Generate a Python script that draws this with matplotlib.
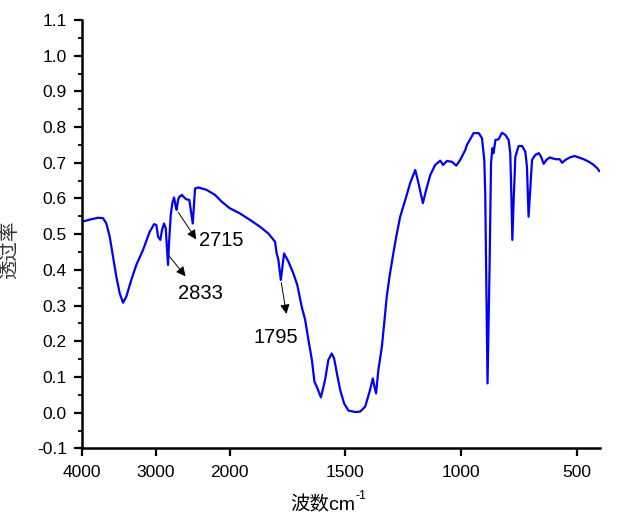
import numpy as np
from matplotlib import pyplot as plt
from matplotlib.ticker import MultipleLocator

plt.rcParams['font.family'] = ['Liberation Sans', 'Noto Sans CJK SC', 'DejaVu Sans']

# wavenumber (cm-1) and transmittance
WAVENUMBER = [
    4000, 3877, 3786, 3718, 3673, 3627, 3582, 3537, 3491, 3446, 3402, 3334, 3266,
    3175, 3084, 3026, 2994, 2971, 2940, 2917, 2890, 2867, 2836, 2822, 2799, 2777,
    2754, 2731, 2718, 2700, 2682, 2646, 2636, 2591, 2547, 2500, 2469, 2425, 2311,
    2198, 2107, 2000, 1955, 1912, 1869, 1833, 1804, 1797, 1790, 1779, 1771, 1765,
    1746, 1725, 1708, 1689, 1674, 1660, 1645, 1634, 1624, 1606, 1588, 1574, 1559,
    1549, 1537, 1523, 1506, 1487, 1458, 1437, 1415, 1396, 1382, 1375, 1368, 1358,
    1343, 1333, 1322, 1310, 1296, 1281, 1264, 1242, 1221, 1199, 1185, 1166, 1152,
    1134, 1113, 1091, 1079, 1062, 1041, 1022, 1005, 983, 976, 947, 925, 911, 901,
    897, 892, 887, 878, 872, 866, 861, 853, 839, 825, 810, 796, 789, 784, 780, 774,
    767, 753, 738, 724, 717, 710, 702, 695, 681, 666, 656, 645, 633, 619, 594, 576,
    565, 551, 532, 511, 494, 472, 450, 429, 414, 405,
]
TRANSMITTANCE = [
    0.535, 0.542, 0.546, 0.545, 0.530, 0.493, 0.437, 0.381, 0.334, 0.308, 0.325,
    0.372, 0.414, 0.456, 0.507, 0.528, 0.526, 0.493, 0.484, 0.512, 0.530, 0.517,
    0.414, 0.475, 0.554, 0.587, 0.603, 0.577, 0.568, 0.596, 0.605, 0.610, 0.607,
    0.598, 0.596, 0.530, 0.628, 0.631, 0.624, 0.610, 0.591, 0.573, 0.558, 0.540,
    0.521, 0.502, 0.479, 0.446, 0.430, 0.372, 0.414, 0.446, 0.423, 0.390, 0.358,
    0.297, 0.260, 0.204, 0.148, 0.087, 0.073, 0.043, 0.092, 0.148, 0.166, 0.152,
    0.110, 0.064, 0.026, 0.006, 0.002, 0.003, 0.017, 0.059, 0.096, 0.073, 0.054,
    0.120, 0.185, 0.250, 0.325, 0.381, 0.437, 0.493, 0.549, 0.596, 0.643, 0.680,
    0.643, 0.587, 0.624, 0.666, 0.694, 0.706, 0.694, 0.705, 0.703, 0.692, 0.708,
    0.736, 0.750, 0.783, 0.783, 0.769, 0.708, 0.615, 0.353, 0.082, 0.418, 0.699,
    0.741, 0.727, 0.764, 0.766, 0.784, 0.778, 0.764, 0.727, 0.605, 0.484, 0.600,
    0.717, 0.747, 0.747, 0.731, 0.689, 0.549, 0.633, 0.708, 0.722, 0.727, 0.717,
    0.697, 0.708, 0.715, 0.710, 0.710, 0.700, 0.708, 0.715, 0.719, 0.715, 0.710,
    0.703, 0.694, 0.685, 0.677,
]

PEAK_LABELS = ['2715', '2833', '1795']
X_TICKS = [4000, 3000, 2000, 1500, 1000, 500]

K = 0.318  # 4000-2000 region is compressed


def fwd(x):
    x = np.asarray(x, dtype=float)
    return np.where(x > 2000, 2000 + (x - 2000) * K, x)


def inv(u):
    u = np.asarray(u, dtype=float)
    return np.where(u > 2000, 2000 + (u - 2000) / K, u)


fig = plt.figure(figsize=(6.33, 5.19), dpi=100)
ax = fig.add_axes([0.1299, 0.136, 0.8186, 0.8255])
ax.set_xscale('function', functions=(fwd, inv))

ax.plot(WAVENUMBER, TRANSMITTANCE, color='#0000ff', lw=1.6)

ax.set_xlim(4000, 400)
ax.set_ylim(-0.1, 1.1)
ax.set_xticks(X_TICKS)
ax.set_xticklabels([str(t) for t in X_TICKS])
ax.set_yticks(np.round(np.arange(-0.1, 1.11, 0.1), 1))
ax.set_yticklabels(['%.1f' % v for v in np.arange(-0.1, 1.11, 0.1)])
ax.yaxis.set_minor_locator(MultipleLocator(0.05))
ax.xaxis.set_minor_locator(plt.NullLocator())

for s in ['top', 'right']:
    ax.spines[s].set_visible(False)
for s in ['left', 'bottom']:
    ax.spines[s].set_linewidth(1.8)
ax.tick_params(which='major', direction='out', length=6, width=1.6, labelsize=12.5)
ax.tick_params(which='minor', direction='out', length=3, width=1.3)
ax.tick_params(axis='x', pad=6)
ax.tick_params(axis='y', pad=5)

arrow = dict(arrowstyle='-|>', color='k', lw=0.7, mutation_scale=14)
ax.annotate('', xy=(2433, 0.479), xytext=(2718, 0.568), arrowprops=arrow)
ax.annotate('', xy=(2574, 0.376), xytext=(2853, 0.447), arrowprops=arrow)
ax.annotate('', xy=(1753, 0.269), xytext=(1779, 0.372), arrowprops=arrow)
ax.text(2410, 0.481, PEAK_LABELS[0], fontsize=14.5, ha='left', va='center')
ax.text(2700, 0.335, PEAK_LABELS[1], fontsize=14.5, ha='left', va='center')
ax.text(1802, 0.212, PEAK_LABELS[2], fontsize=14.5, ha='center', va='center')

# x label with a raised "-1"
fig.text(355 / 633, 1 - 505 / 519, '波数cm', fontsize=14, ha='right', va='center')
fig.text(356 / 633, 1 - 496 / 519, '-1', fontsize=9, ha='left', va='center')
fig.text(10 / 633, 1 - 250 / 519, '透过率', rotation=90, fontsize=14,
         ha='center', va='center', color='#333333')

fig.savefig('out.png', dpi=100)
